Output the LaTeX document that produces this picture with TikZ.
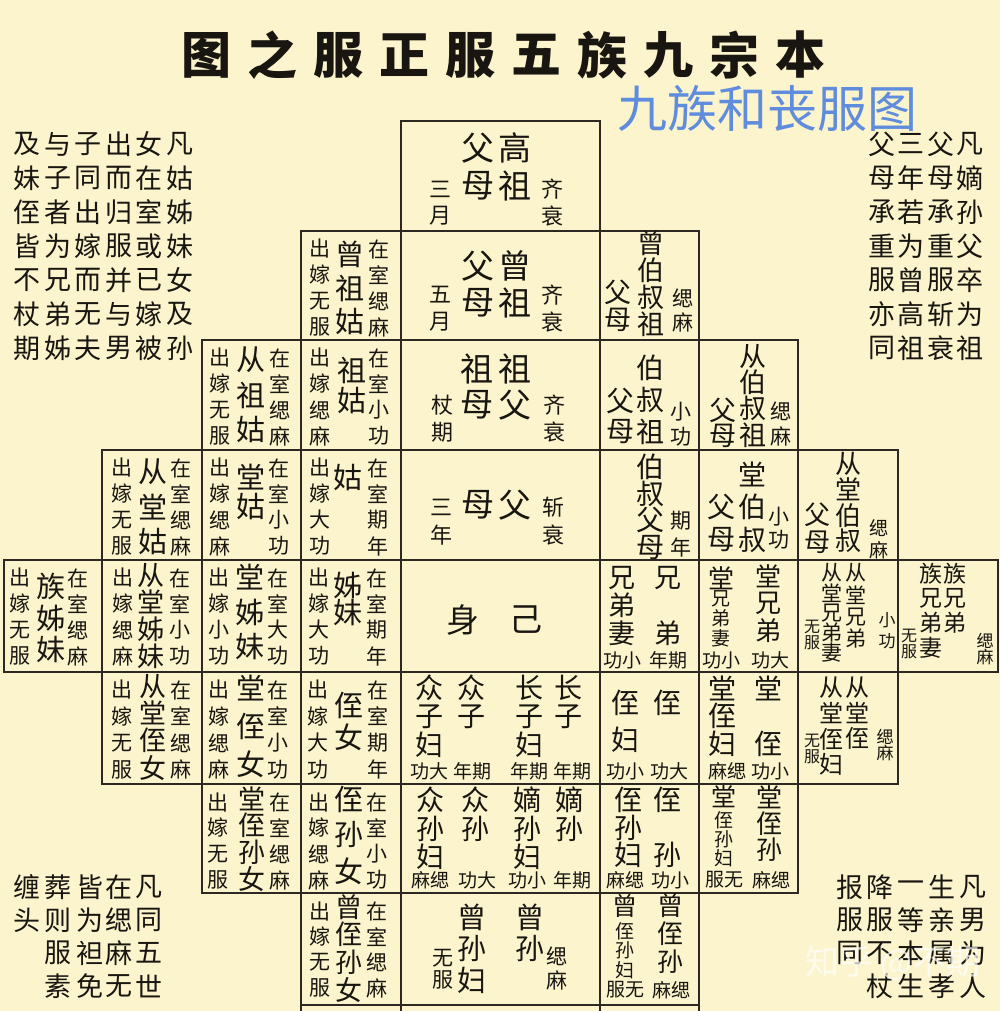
\documentclass[tikz,border=0pt]{standalone}
\usepackage{fontspec}
\setmainfont{Noto Sans CJK SC}
\definecolor{bg}{RGB}{251,244,204}
\definecolor{ink}{RGB}{25,22,18}
\definecolor{gridc}{RGB}{45,40,35}
\definecolor{blueone}{RGB}{95,140,220}
\newcounter{tn}
\newcommand\Vc[5]{%
  \foreach \c [count=\i from 0] in {#5}{%
    \stepcounter{tn}%
    \node[ch,font=\fontsize{#4}{#4}\selectfont,name=t\arabic{tn}] at (#1,{#2+\i*(#3)}) {\c};
  }}
\newcommand\Tx[4]{%
  \stepcounter{tn}%
  \node[ch,font=\fontsize{#3}{#3}\selectfont,name=t\arabic{tn}] at (#1,#2) {#4};}
\begin{document}
\begin{tikzpicture}[x=1pt,y=-1pt,
  ch/.style={inner sep=0pt,outer sep=0pt,text=ink},
  cell/.style={draw=gridc,line width=1.5pt}]
\useasboundingbox (0,0) rectangle (1000,1011);
\fill[bg] (0,0) rectangle (1000,1011);

% ---------- grid ----------
\draw[cell] (401,121) rectangle (600,231);
\draw[cell] (301,231) rectangle (699,340);
\foreach \x in {401,600} \draw[cell] (\x,231)--(\x,340);
\draw[cell] (202,340) rectangle (798,450);
\foreach \x in {301,401,600,699} \draw[cell] (\x,340)--(\x,450);
\draw[cell] (102,450) rectangle (898,560);
\foreach \x in {202,301,401,600,699,798} \draw[cell] (\x,450)--(\x,560);
\draw[cell] (4,560) rectangle (998,672);
\foreach \x in {102,202,301,401,600,699,798,898} \draw[cell] (\x,560)--(\x,672);
\draw[cell] (102,672) rectangle (898,784);
\foreach \x in {202,301,401,600,699,798} \draw[cell] (\x,672)--(\x,784);
\draw[cell] (202,784) rectangle (798,893);
\foreach \x in {301,401,600,699} \draw[cell] (\x,784)--(\x,893);
\draw[cell] (301,1005)--(699,1005);
\foreach \x in {301,401,600,699} \draw[cell] (\x,893)--(\x,1011);

% ---------- titles ----------
\foreach \c [count=\i from 0] in {图,之,服,正,服,五,族,九,宗,本}
  {\node[ch,font=\fontsize{50}{50}\selectfont\bfseries,name=title\i] at (206+66*\i,55) {\c};}
\node[ch,text=blueone,font=\fontsize{50}{50}\selectfont,name=sub] at (767,108) {九族和丧服图};

% ---------- row 0 ----------
\Tx{478}{148}{33}{父}\Tx{515}{148}{33}{高}\Tx{478}{186}{33}{母}\Tx{515}{186}{33}{祖}
\Vc{440}{189}{27}{22}{三,月}\Vc{552}{189}{27}{22}{齐,衰}

% ---------- row 1 ----------
\Vc{320}{249}{26}{21}{出,嫁,无,服}\Vc{350}{254}{34}{29}{曾,祖,姑}\Vc{379}{249}{26}{21}{在,室,缌,麻}
\Tx{478}{266}{33}{父}\Tx{515}{266}{33}{曾}\Tx{478}{303}{33}{母}\Tx{515}{303}{33}{祖}
\Vc{440}{295}{27}{22}{五,月}\Vc{552}{295}{27}{22}{齐,衰}
\Vc{651}{243}{27}{27}{曾,伯,叔,祖}\Vc{618}{292}{28}{27}{父,母}\Vc{683}{298}{24}{21}{缌,麻}

% ---------- row 2 ----------
\Vc{220}{358}{26}{21}{出,嫁,无,服}\Vc{251}{360}{35}{29}{从,祖,姑}\Vc{280}{358}{26}{21}{在,室,缌,麻}
\Vc{320}{358}{26}{21}{出,嫁,缌,麻}\Vc{352}{370}{31}{29}{祖,姑}\Vc{379}{358}{26}{21}{在,室,小,功}
\Tx{477}{369}{33}{祖}\Tx{515}{369}{33}{祖}\Tx{477}{405}{33}{母}\Tx{515}{405}{33}{父}
\Vc{442}{405}{27}{22}{杖,期}\Vc{554}{405}{27}{22}{齐,衰}
\Vc{650}{368}{32}{28}{伯,叔,祖}\Vc{620}{401}{31}{28}{父,母}\Vc{681}{412}{25}{21}{小,功}
\Vc{753}{356}{26.3}{27}{从,伯,叔,祖}\Vc{723}{410}{26}{27}{父,母}\Vc{781}{411}{25}{21}{缌,麻}

% ---------- row 3 ----------
\Vc{122}{468}{26}{21}{出,嫁,无,服}\Vc{153}{472}{35}{29}{从,堂,姑}\Vc{181}{468}{26}{21}{在,室,缌,麻}
\Vc{220}{468}{26}{21}{出,嫁,缌,麻}\Vc{251}{477}{30}{29}{堂,姑}\Vc{279}{468}{26}{21}{在,室,小,功}
\Vc{320}{468}{26}{21}{出,嫁,大,功}\Tx{348}{478}{29}{姑}\Vc{378}{468}{26}{21}{在,室,期,年}
\Vc{441}{507}{28}{22}{三,年}\Tx{478}{505}{33}{母}\Tx{515}{505}{33}{父}\Vc{553}{507}{28}{22}{斩,衰}
\Vc{650}{467}{26.7}{28}{伯,叔,父,母}\Vc{681}{521}{26}{21}{期,年}
\Vc{752}{474}{33}{28}{堂,伯,叔}\Vc{721}{507}{33}{28}{父,母}\Vc{779}{517}{23}{21}{小,功}
\Vc{848}{464}{25.7}{26}{从,堂,伯,叔}\Vc{817}{515}{27}{26}{父,母}\Vc{879}{528}{22}{19}{缌,麻}

% ---------- row 4 ----------
\Vc{20}{578}{26}{21}{出,嫁,无,服}\Vc{51}{586}{32}{29}{族,姊,妹}\Vc{78}{578}{26}{21}{在,室,缌,麻}
\Vc{123}{578}{26}{21}{出,嫁,缌,麻}\Vc{151}{575}{27}{27}{从,堂,姊,妹}\Vc{180}{578}{26}{21}{在,室,小,功}
\Vc{219}{578}{26}{21}{出,嫁,小,功}\Vc{250}{577}{35}{29}{堂,姊,妹}\Vc{278}{578}{26}{21}{在,室,大,功}
\Vc{319}{578}{26}{21}{出,嫁,大,功}\Vc{348}{585}{28}{29}{姊,妹}\Vc{377}{578}{26}{21}{在,室,期,年}
\Tx{463}{620}{33}{身}\Tx{526}{620}{33}{己}
\Vc{622}{578}{27.5}{27}{兄,弟,妻}\Tx{668}{578}{27}{兄}\Tx{668}{633}{27}{弟}
\Tx{622}{660}{19}{功小}\Tx{668}{660}{19}{年期}
\Tx{721}{578}{26}{堂}\Vc{721}{599}{19.5}{19}{兄,弟,妻}\Tx{721}{660}{19}{功小}
\Vc{768}{576}{27.5}{26}{堂,兄,弟}\Tx{770}{660}{19}{功大}
\Vc{832}{573}{20}{21}{从,堂,兄,弟,妻}\Vc{856}{573}{22}{21}{从,堂,兄,弟}
\Vc{812}{627}{16}{16}{无,服}\Vc{887}{620}{21}{17}{小,功}
\Vc{931}{574}{24.5}{23}{族,兄,弟,妻}\Vc{955}{574}{24.5}{23}{族,兄,弟}
\Vc{909}{636}{16}{16}{无,服}\Vc{985}{641}{16}{17}{缌,麻}

% ---------- row 5 ----------
\Vc{122}{690}{26.5}{21}{出,嫁,无,服}\Vc{153}{686}{27.3}{27}{从,堂,侄,女}\Vc{181}{690}{26.5}{21}{在,室,缌,麻}
\Vc{219}{690}{26.5}{21}{出,嫁,缌,麻}\Vc{251}{688}{38}{29}{堂,侄,女}\Vc{278}{690}{26.5}{21}{在,室,小,功}
\Vc{318}{690}{26.5}{21}{出,嫁,大,功}\Vc{349}{705}{32}{29}{侄,女}\Vc{378}{690}{26.5}{21}{在,室,期,年}
\Vc{429}{688}{28.5}{28}{众,子,妇}\Vc{471}{688}{28.5}{28}{众,子}\Vc{529}{688}{28.5}{28}{长,子,妇}\Vc{568}{688}{28.5}{28}{长,子}
\Tx{429}{771}{19}{功大}\Tx{472}{771}{19}{年期}\Tx{529}{771}{19}{年期}\Tx{572}{771}{19}{年期}
\Vc{625}{703}{37}{28}{侄,妇}\Tx{667}{703}{28}{侄}\Tx{625}{771}{19}{功小}\Tx{669}{771}{19}{功大}
\Vc{722}{688}{28}{28}{堂,侄,妇}\Tx{768}{688}{28}{堂}\Tx{768}{744}{28}{侄}
\Tx{727}{771}{19}{麻缌}\Tx{770}{771}{19}{功小}
\Vc{831}{688}{25.5}{24}{从,堂,侄,妇}\Vc{857}{688}{25}{24}{从,堂,侄}
\Vc{812}{741}{16}{16}{无,服}\Vc{885}{737}{16}{17}{缌,麻}

% ---------- row 6 ----------
\Vc{218}{802}{26}{21}{出,嫁,无,服}\Vc{252}{799}{26.7}{27}{堂,侄,孙,女}\Vc{280}{802}{26}{21}{在,室,缌,麻}
\Vc{319}{802}{26}{21}{出,嫁,缌,麻}\Vc{349}{799}{36}{29}{侄,孙,女}\Vc{377}{802}{26}{21}{在,室,小,功}
\Vc{430}{800}{28.5}{28}{众,孙,妇}\Vc{475}{800}{28.5}{28}{众,孙}\Vc{527}{800}{28.5}{28}{嫡,孙,妇}\Vc{569}{800}{28.5}{28}{嫡,孙}
\Tx{430}{880}{19}{麻缌}\Tx{477}{880}{19}{功大}\Tx{527}{880}{19}{功小}\Tx{572}{880}{19}{年期}
\Vc{628}{800}{27.5}{28}{侄,孙,妇}\Tx{667}{800}{28}{侄}\Tx{667}{855}{28}{孙}
\Tx{625}{880}{19}{麻缌}\Tx{670}{880}{19}{功小}
\Tx{724}{797}{25}{堂}\Vc{724}{820}{19}{19}{侄,孙,妇}\Tx{724}{880}{19}{服无}
\Vc{769}{797}{26.5}{26}{堂,侄,孙}\Tx{771}{880}{19}{麻缌}

% ---------- row 7 ----------
\Vc{320}{911}{25.7}{21}{出,嫁,无,服}\Vc{349}{907}{27.7}{27}{曾,侄,孙,女}\Vc{377}{911}{25.7}{21}{在,室,缌,麻}
\Vc{472}{917}{31.5}{29}{曾,孙,妇}\Vc{530}{917}{31.5}{29}{曾,孙}
\Vc{443}{958}{22}{21}{无,服}\Vc{557}{956}{24}{21}{缌,麻}
\Tx{625}{906}{25}{曾}\Vc{625}{931}{19.5}{19}{侄,孙,妇}\Tx{625}{990}{19}{服无}
\Vc{670}{906}{28}{26}{曾,侄,孙}\Tx{671}{990}{19}{麻缌}

% ---------- side texts ----------
\Vc{179.5}{144}{34}{27}{凡,姑,姊,妹,女,及,孙}
\Vc{149}{144}{34}{27}{女,在,室,或,已,嫁,被}
\Vc{118.5}{144}{34}{27}{出,而,归,服,并,与,男}
\Vc{88}{144}{34}{27}{子,同,出,嫁,而,无,夫}
\Vc{57.5}{144}{34}{27}{与,子,者,为,兄,弟,姊}
\Vc{27}{144}{34}{27}{及,妹,侄,皆,不,杖,期}

\Vc{970}{144}{34}{27}{凡,嫡,孙,父,卒,为,祖}
\Vc{941}{144}{34}{27}{父,母,承,重,服,斩,衰}
\Vc{911}{144}{34}{27}{三,年,若,为,曾,高,祖}
\Vc{882}{144}{34}{27}{父,母,承,重,服,亦,同}

\Vc{149}{887}{33}{27}{凡,同,五,世}
\Vc{119}{887}{33}{27}{在,缌,麻,无}
\Vc{90}{887}{33}{27}{皆,为,袒,免}
\Vc{58}{887}{33}{27}{葬,则,服,素}
\Vc{27}{887}{33}{27}{缠,头}

\Vc{973}{887}{33}{27}{凡,男,为,人}
\Vc{942}{887}{33}{27}{生,亲,属,孝}
\Vc{911}{887}{33}{27}{一,等,本,生}
\Vc{880}{887}{33}{27}{降,服,不,杖}
\Vc{850}{887}{33}{27}{报,服,同}

\node[ch,text=white,opacity=0.7,font=\fontsize{34}{34}\selectfont,name=wm] at (893,963) {知乎 @不期};
\end{tikzpicture}
\end{document}
